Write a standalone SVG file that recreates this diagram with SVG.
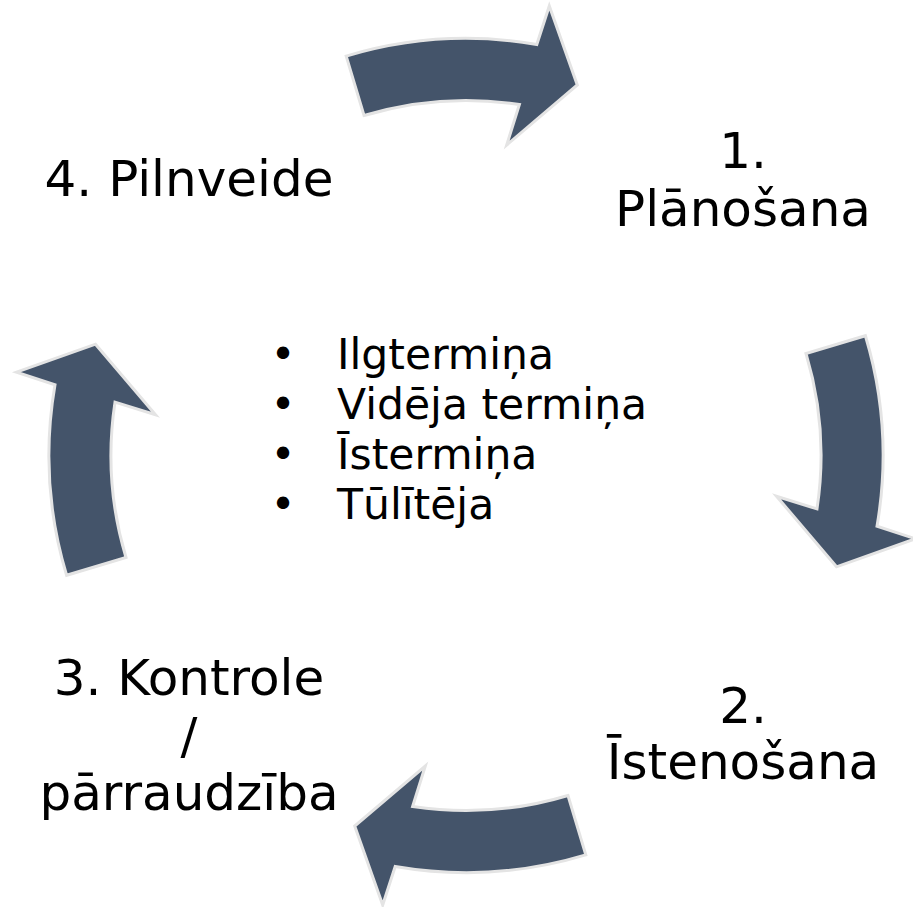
<svg xmlns="http://www.w3.org/2000/svg" xmlns:xlink="http://www.w3.org/1999/xlink" width="913" height="907" viewBox="0 0 913 907">
<style>
.arr{fill:#44546A;stroke:#E4E4E4;stroke-width:3;stroke-linejoin:miter}
.lbl{font-family:"DejaVu Sans","Verdana",sans-serif;font-size:50px;fill:#000;text-anchor:middle}
.bul{font-family:"DejaVu Sans","Verdana",sans-serif;font-size:42.5px;fill:#000}
</style>
<defs>
<path id="arrow" class="arr" d="M -119.8,-399.4 A 417 417 0 0 1 70.8,-411.0 L 83.3,-449.5 L 111.3,-370.5 L 40.7,-310.5 L 53.4,-351.0 A 355 355 0 0 0 -102.0,-340.0 Z"/>
</defs>
<rect width="913" height="907" fill="#FFFFFF"/>
<g id="connectors">
<use xlink:href="#arrow" transform="translate(466,455.5)"/>
<use xlink:href="#arrow" transform="translate(466,455.5) rotate(90)"/>
<use xlink:href="#arrow" transform="translate(466,455.5) rotate(180)"/>
<use xlink:href="#arrow" transform="translate(466,455.5) rotate(270)"/>
</g>
<g id="node1">
<text class="lbl" x="743" y="168">1.</text>
<text class="lbl" x="743" y="226">Plānošana</text>
</g>
<g id="node2">
<text class="lbl" x="743" y="723">2.</text>
<text class="lbl" x="743" y="779">Īstenošana</text>
</g>
<g id="node3">
<text class="lbl" x="189" y="695">3. Kontrole</text>
<text class="lbl" x="189" y="753">/</text>
<text class="lbl" x="189" y="810">pārraudzība</text>
</g>
<g id="node4">
<text class="lbl" x="189" y="196">4. Pilnveide</text>
</g>
<g id="center">
<text class="bul" x="283" y="369" text-anchor="middle">•</text>
<text class="bul" x="337" y="369">Ilgtermiņa</text>
<text class="bul" x="283" y="419" text-anchor="middle">•</text>
<text class="bul" x="337" y="419">Vidēja termiņa</text>
<text class="bul" x="283" y="469" text-anchor="middle">•</text>
<text class="bul" x="337" y="469">Īstermiņa</text>
<text class="bul" x="283" y="519" text-anchor="middle">•</text>
<text class="bul" x="337" y="519">Tūlītēja</text>
</g>
</svg>
